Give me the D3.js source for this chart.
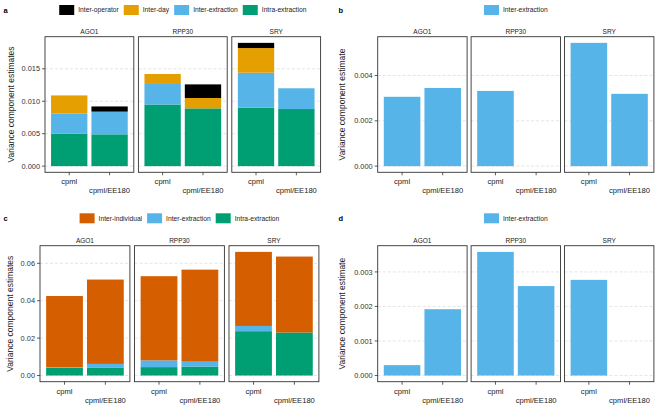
<!DOCTYPE html>
<html>
<head>
<meta charset="utf-8">
<script src="https://cdn.jsdelivr.net/npm/d3@7"></script>
<style>
  body { margin: 0; background: #fff; }
  text { font-family: "Liberation Sans", Arial, sans-serif; }
</style>
</head>
<body>
<div id="chart-area"></div>
<script>
// DATA
var facets = ["AGO1", "RPP30", "SRY"];
var methods = ["cpml", "cpml/EE180"];

// values ordered AGO1 cpml, AGO1 cpml/EE180, RPP30 cpml, RPP30 cpml/EE180, SRY cpml, SRY cpml/EE180
var aIntraExtraction = [0.0050, 0.0049, 0.0095, 0.0089, 0.0090, 0.0088];
var aInterExtraction = [0.0031, 0.0035, 0.0033, 0.0000, 0.0054, 0.0032];
var aInterDay = [0.0028, 0.0000, 0.0014, 0.0016, 0.0038, 0.0000];
var aInterOperator = [0.0000, 0.0008, 0.0000, 0.0021, 0.0008, 0.0000];

var bInterExtraction = [0.00306, 0.00345, 0.00332, null, 0.00544, 0.00319];

var cIntraExtraction = [0.0041, 0.0043, 0.0045, 0.0048, 0.0237, 0.0230];
var cInterExtraction = [0.0003, 0.0019, 0.0036, 0.0026, 0.0028, 0.0000];
var cInterIndividual = [0.0381, 0.0451, 0.0450, 0.0492, 0.0396, 0.0406];

var dInterExtraction = [0.00030, 0.00192, 0.00358, 0.00259, 0.00277, null];

var aTicks = [0, 0.005, 0.010, 0.015];
var bTicks = [0, 0.002, 0.004];
var cTicks = [0, 0.02, 0.04, 0.06];
var dTicks = [0, 0.001, 0.002, 0.003];

var colors = {
    "Inter-operator": "#000000",
    "Inter-day": "#E69F00",
    "Inter-extraction": "#56B4E9",
    "Intra-extraction": "#009E73",
    "Inter-individual": "#D55E00"
};

var svg = d3.select("#chart-area")
    .append("svg")
    .attr("width", 669)
    .attr("height", 417);

function drawPanel(p) {
    var g = svg.append("g");

    // letter
    g.append("text")
        .attr("x", p.letterX)
        .attr("y", p.legendY + 2.5)
        .attr("font-size", "7.5px")
        .attr("font-weight", "bold")
        .text(p.letter);

    // stack rows: one per bar
    var rows = [];
    facets.forEach(function (f, fi) {
        methods.forEach(function (m, mi) {
            var i = fi * 2 + mi;
            var row = { facet: f, method: m };
            p.series.forEach(function (s) { row[s.name] = s.values[i]; });
            rows.push(row);
        });
    });
    var keys = p.series.map(function (s) { return s.name; });
    var stacked = d3.stack().keys(keys).value(function (d, k) { return d[k] || 0; })(rows);
    var maxTotal = d3.max(rows, function (r) { return d3.sum(keys, function (k) { return r[k] || 0; }); });

    var boxBottom = p.top + p.height;
    var y = d3.scaleLinear()
        .domain([-0.05 * maxTotal, 1.05 * maxTotal])
        .range([boxBottom, p.top]);

    var fx = d3.scaleBand()
        .domain(facets)
        .range([p.left, p.left + 3 * p.facetW + 2 * p.gap])
        .paddingInner(p.gap / (p.facetW + p.gap));

    var x = d3.scaleBand()
        .domain(methods)
        .range([0, fx.bandwidth()])
        .paddingInner(0.1)
        .paddingOuter(0.15);

    facets.forEach(function (f) {
        var fg = g.append("g").attr("transform", "translate(" + fx(f) + ",0)");
        var w = fx.bandwidth();

        // grid
        fg.selectAll(".grid").data(p.ticks).enter()
            .append("line")
            .attr("x1", 0).attr("x2", w)
            .attr("y1", function (d) { return y(d); })
            .attr("y2", function (d) { return y(d); })
            .attr("stroke", "#d4d4d4")
            .attr("stroke-width", 0.6)
            .attr("stroke-dasharray", "3,2");

        // bars
        stacked.forEach(function (layer) {
            fg.selectAll(".bar-" + layer.key.replace(/\W/g, ""))
                .data(layer.filter(function (d) { return d.data.facet === f && d.data[layer.key]; }))
                .enter()
                .append("rect")
                .attr("x", function (d) { return x(d.data.method); })
                .attr("width", x.bandwidth())
                .attr("y", function (d) { return y(d[1]); })
                .attr("height", function (d) { return y(d[0]) - y(d[1]); })
                .attr("fill", colors[layer.key]);
        });

        // border
        fg.append("rect")
            .attr("x", 0).attr("y", p.top)
            .attr("width", w).attr("height", p.height)
            .attr("fill", "none")
            .attr("stroke", "#333")
            .attr("stroke-width", 0.9);

        // strip label
        fg.append("text")
            .attr("x", w / 2)
            .attr("y", p.top - 2.5)
            .attr("text-anchor", "middle")
            .attr("font-size", "6.5px")
            .attr("fill", "#1a1a1a")
            .text(f);

        // x ticks + labels (dodged on two rows)
        methods.forEach(function (m, mi) {
            var cx = x(m) + x.bandwidth() / 2;
            fg.append("line")
                .attr("x1", cx).attr("x2", cx)
                .attr("y1", boxBottom).attr("y2", boxBottom + 3)
                .attr("stroke", "#333").attr("stroke-width", 0.8);
            fg.append("text")
                .attr("x", cx)
                .attr("y", boxBottom + (mi === 0 ? 11.8 : 21))
                .attr("text-anchor", "middle")
                .attr("font-size", "7.6px")
                .attr("fill", "#1a1a1a")
                .text(m);
        });
    });

    // y axis
    var fmt = d3.format(p.fmt);
    var yAxis = g.append("g");
    yAxis.selectAll("line").data(p.ticks).enter()
        .append("line")
        .attr("x1", p.left - 3).attr("x2", p.left)
        .attr("y1", function (d) { return y(d); })
        .attr("y2", function (d) { return y(d); })
        .attr("stroke", "#333").attr("stroke-width", 0.8);
    yAxis.selectAll("text").data(p.ticks).enter()
        .append("text")
        .attr("x", p.left - 5)
        .attr("y", function (d) { return y(d); })
        .attr("dy", "0.35em")
        .attr("text-anchor", "end")
        .attr("font-size", "7.4px")
        .attr("fill", "#333")
        .text(function (d) { return fmt(d); });

    // y title
    g.append("text")
        .attr("transform", "translate(" + p.titleX + "," + (p.top + p.height / 2) + ") rotate(-90)")
        .attr("text-anchor", "middle")
        .attr("dy", "0.35em")
        .attr("font-size", "8.5px")
        .attr("fill", "#1a1a1a")
        .text(p.yTitle);

    // legend
    var lg = g.append("g");
    var cursor = 0;
    p.legend.forEach(function (name) {
        lg.append("rect")
            .attr("x", cursor).attr("y", p.legendY - 5)
            .attr("width", 15).attr("height", 10)
            .attr("fill", colors[name]);
        var t = lg.append("text")
            .attr("x", cursor + 19)
            .attr("y", p.legendY)
            .attr("dy", "0.35em")
            .attr("font-size", "6.7px")
            .attr("fill", "#222")
            .text(name);
        cursor += 19 + t.node().getComputedTextLength() + 5;
    });
    var legendW = cursor - 5;
    var centerX = p.left + (3 * p.facetW + 2 * p.gap) / 2;
    lg.attr("transform", "translate(" + (centerX - legendW / 2) + ",0)");
}

drawPanel({
    letter: "a", letterX: 3.5, legendY: 10,
    left: 45, top: 36.7, height: 135.6, facetW: 88.8, gap: 4.6,
    titleX: 10.7, yTitle: "Variance component estimates",
    ticks: aTicks, fmt: ".3f",
    series: [
        { name: "Intra-extraction", values: aIntraExtraction },
        { name: "Inter-extraction", values: aInterExtraction },
        { name: "Inter-day", values: aInterDay },
        { name: "Inter-operator", values: aInterOperator }
    ],
    legend: ["Inter-operator", "Inter-day", "Inter-extraction", "Intra-extraction"]
});

drawPanel({
    letter: "b", letterX: 338.5, legendY: 10,
    left: 377.7, top: 36.7, height: 135.6, facetW: 89.4, gap: 4,
    titleX: 341.7, yTitle: "Variance component estimate",
    ticks: bTicks, fmt: ".3f",
    series: [{ name: "Inter-extraction", values: bInterExtraction }],
    legend: ["Inter-extraction"]
});

drawPanel({
    letter: "c", letterX: 3.5, legendY: 218.3,
    left: 40, top: 245.7, height: 136, facetW: 89.9, gap: 4.6,
    titleX: 10, yTitle: "Variance component estimates",
    ticks: cTicks, fmt: ".2f",
    series: [
        { name: "Intra-extraction", values: cIntraExtraction },
        { name: "Inter-extraction", values: cInterExtraction },
        { name: "Inter-individual", values: cInterIndividual }
    ],
    legend: ["Inter-individual", "Inter-extraction", "Intra-extraction"]
});

drawPanel({
    letter: "d", letterX: 338.5, legendY: 218.3,
    left: 377.7, top: 245.7, height: 136, facetW: 89.4, gap: 4,
    titleX: 342.3, yTitle: "Variance component estimate",
    ticks: dTicks, fmt: ".3f",
    series: [{ name: "Inter-extraction", values: dInterExtraction }],
    legend: ["Inter-extraction"]
});
</script>
</body>
</html>
